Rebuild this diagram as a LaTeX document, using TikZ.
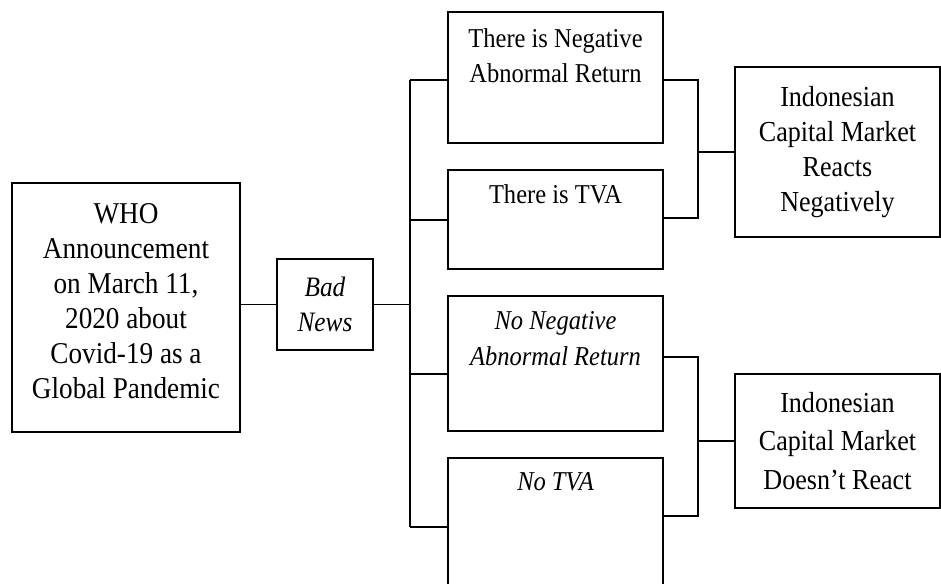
\documentclass[tikz,border=0pt]{standalone}
\usepackage{fontspec}
\setmainfont{Liberation Serif}[FakeStretch=0.9]
\usepackage{tikz}
\usetikzlibrary{calc}
\tikzstyle{frame}=[draw,line width=1.1pt,inner sep=0pt]
\tikzstyle{txt}=[align=center,inner sep=0pt,font=\fontsize{16}{20}\selectfont]
\tikzstyle{link}=[line width=1.1pt]

\begin{document}
\begin{tikzpicture}[x=0.02cm,y=-0.02cm]
	\useasboundingbox (0,0) rectangle (941,584);
	\clip (0,0) rectangle (941,584);
	% left part
	\node[frame,minimum width=4.56cm,minimum height=4.98cm] (who) at (126,307.5) {};
	\node[txt,font=\fontsize{17.2}{20}\selectfont] (whot) at ([yshift=0.13cm]who.center)
		{WHO\\Announcement\\on March 11,\\2020 about\\Covid-19 as a\\Global Pandemic};
	\node[frame,txt,minimum width=1.92cm,minimum height=1.82cm] (bad) at (325,304.5)
		{\itshape Bad\\\itshape News};
	% middle boxes
	\node[frame,minimum width=4.3cm,minimum height=2.62cm] (b1) at (555.5,77.5) {};
	\node[frame,minimum width=4.3cm,minimum height=1.98cm] (b2) at (555.5,219.5) {};
	\node[frame,minimum width=4.3cm,minimum height=2.7cm] (b3) at (555.5,363.5) {};
	\node[frame,minimum width=4.3cm,minimum height=3.64cm] (b4) at (555.5,549) {};
	\tikzset{mid/.style={txt,anchor=north,font=\fontsize{15.5}{20}\selectfont}}
	\node[mid] (b1t) at ([yshift=-0.35cm]b1.north) {There is Negative\\Abnormal Return};
	\node[mid] (b2t) at ([yshift=-0.3cm]b2.north) {There is TVA};
	\node[mid] (b3t) at ([yshift=-0.33cm]b3.north) {\itshape No Negative\\\itshape Abnormal Return};
	\node[mid] (b4t) at ([yshift=-0.3cm]b4.north) {\itshape No TVA};
	% right boxes
	\node[frame,txt,font=\fontsize{16.5}{20}\selectfont,minimum width=4.1cm,minimum height=3.4cm] (r1) at (837.5,152)
		{Indonesian\\Capital Market\\Reacts\\Negatively};
	\node[frame,txt,font=\fontsize{16.5}{22}\selectfont,minimum width=4.1cm,minimum height=2.68cm] (r2) at (837.5,441)
		{Indonesian\\Capital Market\\Doesn’t React};

	\coordinate (t1) at (410,80);
	\coordinate (t2) at (410,220);
	\coordinate (t3) at (410,374);
	\coordinate (t4) at (410,527);
	\coordinate (u1) at (698,80);
	\coordinate (u2) at (698,218);
	\coordinate (u3) at (698,357);
	\coordinate (u4) at (698,516);

	\draw[link] (who.east |- bad.west) -- (bad.west);
	\draw[link] (bad.east) -- (bad.east -| t1);
	\draw[link] (t1) -- (t4);
	\draw[link] (t1) -- (t1 -| b1.west);
	\draw[link] (t2) -- (t2 -| b2.west);
	\draw[link] (t3) -- (t3 -| b3.west);
	\draw[link] (t4) -- (t4 -| b4.west);

	\draw[link] (u1 -| b1.east) -- (u1) -- (u2) -- (u2 -| b2.east);
	\draw[link] (r1.west -| u1) -- (r1.west);
	\draw[link] (u3 -| b3.east) -- (u3) -- (u4) -- (u4 -| b4.east);
	\draw[link] (r2.west -| u3) -- (r2.west);
\end{tikzpicture}
\end{document}
